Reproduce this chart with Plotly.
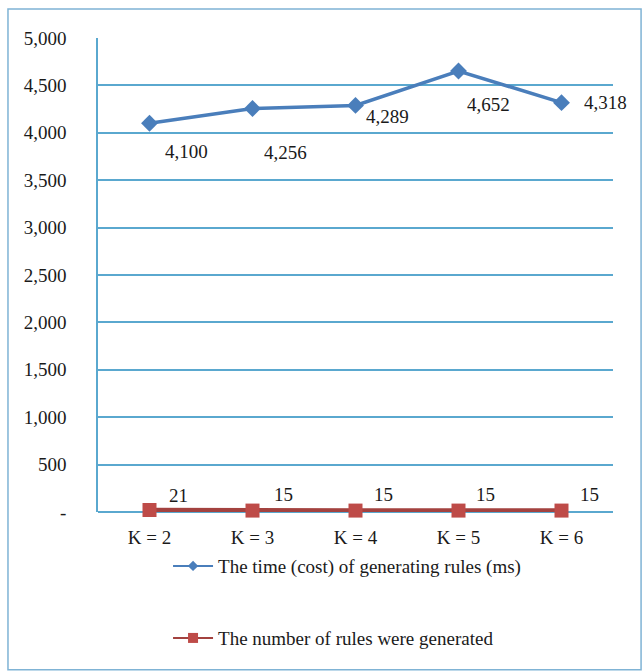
import plotly.graph_objects as go

categories = ["K = 2", "K = 3", "K = 4", "K = 5", "K = 6"]
time_ms = [4100, 4256, 4289, 4652, 4318]
rule_count = [21, 15, 15, 15, 15]
time_name = "The time (cost) of generating rules (ms)"
count_name = "The number of rules were generated"
y_tickvals = [0, 500, 1000, 1500, 2000, 2500, 3000, 3500, 4000, 4500, 5000]
y_ticktext = ["-", "500", "1,000", "1,500", "2,000", "2,500", "3,000", "3,500", "4,000", "4,500", "5,000"]

# label offsets (px) - style only
time_off = [(37, -28), (33, -44), (32, -11), (30, -34), (44, 0)]
count_off = [(29, 15), (31, 16), (28, 16), (27, 16), (28, 16)]

FONT = "Liberation Serif"
FS = 19
BLUE = "#4A7EBB"
RED = "#BE4B48"
RED_LINE = "#A3423F"
GRID = "#5AA8CF"
TXT = "#1a1a1a"

fig = go.Figure()
fig.add_trace(go.Scatter(
    x=categories, y=time_ms, name=time_name, mode="lines+markers",
    line=dict(color=BLUE, width=3.5),
    marker=dict(symbol="diamond", size=13, color=BLUE),
    showlegend=False, cliponaxis=False,
))
fig.add_trace(go.Scatter(
    x=categories, y=rule_count, name=count_name, mode="lines+markers",
    line=dict(color=RED_LINE, width=4.5),
    marker=dict(symbol="square", size=14, color=RED),
    showlegend=False, cliponaxis=False,
))
# legend entries (smaller symbols as in the reference)
fig.add_trace(go.Scatter(
    x=[None], y=[None], name=time_name, mode="lines+markers",
    line=dict(color=BLUE, width=2), marker=dict(symbol="diamond", size=8, color=BLUE),
    legend="legend",
))
fig.add_trace(go.Scatter(
    x=[None], y=[None], name=count_name, mode="lines+markers",
    line=dict(color=RED_LINE, width=2), marker=dict(symbol="square", size=10, color=RED),
    legend="legend2",
))

for c, v, (dx, dy) in zip(categories, time_ms, time_off):
    fig.add_annotation(x=c, y=v, text=f"{v:,}", showarrow=False,
                       xshift=dx, yshift=dy, font=dict(family=FONT, size=FS, color=TXT))
for c, v, (dx, dy) in zip(categories, rule_count, count_off):
    fig.add_annotation(x=c, y=v, text=f"{v:,}", showarrow=False,
                       xshift=dx, yshift=dy, font=dict(family=FONT, size=FS, color=TXT))

# outer frame
fig.add_shape(type="rect", xref="paper", yref="paper",
              x0=-0.1748, x1=1.0545, y0=-0.333, y1=1.0612,
              line=dict(color="#7FB3D5", width=1.5), layer="below")

leg_common = dict(xanchor="left", yanchor="middle", font=dict(family=FONT, size=FS, color=TXT),
                  bgcolor="rgba(0,0,0,0)", itemwidth=40)

fig.update_layout(
    width=643, height=671,
    margin=dict(l=98, r=30, t=38, b=159),
    paper_bgcolor="white", plot_bgcolor="white",
    font=dict(family=FONT, size=FS, color=TXT),
    showlegend=True,
    legend=dict(x=0.136, y=-0.114, **leg_common),
    legend2=dict(x=0.136, y=-0.266, **leg_common),
    xaxis=dict(type="category", showgrid=False, showline=False, zeroline=False,
               ticks="", tickfont=dict(family=FONT, size=FS, color=TXT), ticklabelstandoff=12,
               range=[-0.5, 4.5]),
    yaxis=dict(range=[0, 5000], tickvals=y_tickvals, ticktext=y_ticktext,
               showgrid=True, gridcolor=GRID, gridwidth=1.5,
               showline=True, linecolor=GRID, linewidth=1.5,
               zeroline=True, zerolinecolor=GRID, zerolinewidth=1.5,
               ticks="", ticklabelstandoff=26, tickfont=dict(family=FONT, size=FS, color=TXT)),
)

fig.write_html("out.html")
